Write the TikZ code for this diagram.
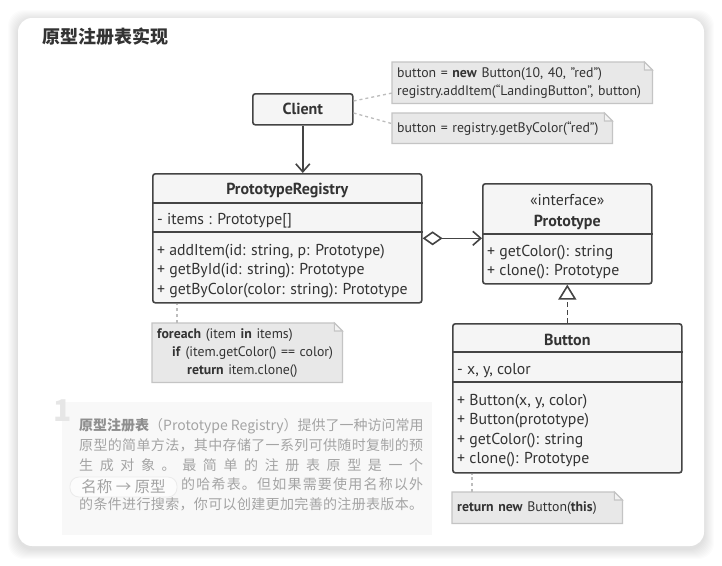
\documentclass[tikz,border=0pt]{standalone}
\usepackage{fontspec}
\setmainfont{PT Sans}
\newfontfamily\cjk{Noto Sans CJK SC}
\usetikzlibrary{arrows.meta,positioning,calc}
\definecolor{Ink}{HTML}{333333}
\definecolor{Frame}{HTML}{444444}
\definecolor{BoxFill}{HTML}{F5F5F5}
\definecolor{NoteFill}{HTML}{E8E8E8}
\definecolor{NoteRule}{HTML}{C4C4C4}
\definecolor{FoldFill}{HTML}{F3F3F3}
\definecolor{Link}{HTML}{BDBDBD}
\definecolor{Faded}{HTML}{A4A4A4}
\definecolor{FadedBold}{HTML}{8E8E8E}
\definecolor{PanelFill}{HTML}{F8F8F8}
\definecolor{PillRule}{HTML}{EBEBEB}
\definecolor{BigNum}{HTML}{E6E6E6}
\pgfdeclarelayer{card}
\pgfdeclarelayer{paper}
\pgfsetlayers{card,paper,main}
% folded note frame behind a node
\newcommand{\dognote}[1]{%
  \begin{pgfonlayer}{paper}
    \filldraw[notecard] (#1.north west) -- ([xshift=-8pt]#1.north east)
      -- ([yshift=-8pt]#1.north east) -- (#1.south east) -- (#1.south west) -- cycle;
    \filldraw[notefold] ([xshift=-8pt]#1.north east)
      -- ([xshift=-8pt,yshift=-8pt]#1.north east) -- ([yshift=-8pt]#1.north east) -- cycle;
  \end{pgfonlayer}}
% spread CJK characters over a fixed width
\makeatletter
\newcommand{\spreadchars}[1]{\def\spreadgap{}\@tfor\spreadch:=#1\do{\spreadgap\spreadch\def\spreadgap{\hfill}}}
\makeatother

\begin{document}
\begin{tikzpicture}[x=1pt, y=-1pt,
  heading/.style={font=\cjk\bfseries\fontsize{18}{22}\selectfont, text=Ink, anchor=west, inner sep=0pt},
  umlbox/.style={draw=Frame, line width=1.6pt, rounded corners=2.5pt, fill=BoxFill,
    anchor=north west, inner sep=0pt, text=Ink, font=\fontsize{16}{19}\selectfont\bfseries},
  sep/.style={draw=Frame, line width=1.6pt},
  classname/.style={font=\fontsize{16}{19}\selectfont\bfseries, text=Ink, inner sep=0pt, yshift=-2pt},
  stereo/.style={font=\fontsize{15.8}{19}\selectfont, text=Ink, inner sep=0pt, yshift=-0.5pt},
  member/.style={font=\fontsize{15.8}{19}\selectfont, text=Ink, anchor=mid west, inner sep=0pt, yshift=-3.5pt},
  note/.style={anchor=north west, text width=#1, inner xsep=5pt, inner ysep=0pt, align=left,
    font=\fontsize{13.8}{18}\selectfont, text=Ink},
  notecard/.style={fill=NoteFill, draw=NoteRule, line width=1.3pt},
  notefold/.style={fill=FoldFill, draw=NoteRule, line width=1.1pt},
  link/.style={draw=Link, line width=1.3pt, dash pattern=on 3pt off 3pt},
  assoc/.style={draw=Frame, line width=1.6pt, -{Straight Barb[length=8pt,width=14pt]}},
  aggr/.style={draw=Frame, line width=1.6pt,
    {Diamond[open,length=20pt,width=14pt]}-{Straight Barb[length=8pt,width=14pt]}},
  realize/.style={draw=Frame, line width=1.6pt, dash pattern=on 5pt off 3pt,
    -{Triangle[open,length=15pt,width=18pt]}},
  panel/.style={fill=PanelFill, anchor=north west, inner sep=0pt, minimum width=370pt, minimum height=133pt},
  bignum/.style={font=\cjk\bfseries\fontsize{30}{30}\selectfont, text=BigNum, anchor=north west, inner sep=0pt},
  para/.style={font=\cjk\fontsize{14}{18}\selectfont, text=Faded, anchor=mid west, inner sep=0pt},
  pill/.style={font=\cjk\fontsize{15.5}{18}\selectfont, text=Faded, fill=PanelFill!40!white, draw=PillRule,
    line width=0.8pt, rounded corners=9pt, minimum width=107pt, minimum height=20pt, inner sep=0pt}
]
  \useasboundingbox (0,0) rectangle (722,565);
  \begin{pgfonlayer}{card}
    \foreach \s in {1,...,10}
      \fill[black, opacity=0.013, rounded corners=16pt] (18-\s,20-\s) rectangle (704+\s,549+\s);
    \fill[white, rounded corners=14pt] (18,18) rectangle (704,546);
  \end{pgfonlayer}

  \node[heading] (heading) at (42,37) {原型注册表实现};

  % client and its notes
  \node[umlbox, minimum width=100pt, minimum height=31pt] (client) at (252,93) {Client};
  \node[note=250pt, minimum height=41pt] (addnote) at (392,62)
    {button = \textbf{new} Button(10, 40, "red")\\registry.addItem(“LandingButton”, button)};
  \node[note=210pt, minimum height=30pt] (getnote) at (392,113)
    {button = registry.getByColor(“red”)};
  \dognote{addnote}
  \dognote{getnote}
  \draw[link] (client.east |- 0,101) -- ($(addnote.south west)!0.25!(addnote.north west)$);
  \draw[link] (client.east |- 0,113) -- ($(getnote.north west)!0.35!(getnote.south west)$);

  % registry
  \node[umlbox, minimum width=269pt, minimum height=129pt] (registry) at (152,173) {};
  \draw[sep] (registry.west |- 0,203) -- (registry.east |- 0,203);
  \draw[sep] (registry.west |- 0,232) -- (registry.east |- 0,232);
  \node[classname] (registryname) at (registry.center |- 0,189) {PrototypeRegistry};
  \node[member] (regitems) at (157,218) {- items : Prototype[]};
  \node[member] (regadd) at (157,249) {+ addItem(id: string, p: Prototype)};
  \node[member] (regbyid) at (157,268) {+ getById(id: string): Prototype};
  \node[member] (regbycolor) at (157,288) {+ getByColor(color: string): Prototype};
  \draw[assoc] (client.south) -- (client.south |- registry.north);

  \node[note=180pt, minimum height=59pt] (loopnote) at (152,323)
    {\textbf{foreach} (item \textbf{in} items)\\
     \hspace*{15pt}\textbf{if} (item.getColor() == color)\\
     \hspace*{30pt}\textbf{return} item.clone()};
  \dognote{loopnote}
  \coordinate (loophook) at ($(loopnote.north west)+(25,0)$);
  \draw[link] (loophook) -- (loophook |- registry.south);

  % prototype interface
  \node[umlbox, minimum width=169pt, minimum height=100pt] (proto) at (482,183) {};
  \draw[sep] (proto.west |- 0,234) -- (proto.east |- 0,234);
  \node[stereo] (protostereo) at (proto.center |- 0,199) {«interface»};
  \node[classname] (protoname) at (proto.center |- 0,220) {Prototype};
  \node[member] (protocolor) at (487,250) {+ getColor(): string};
  \node[member] (protoclone) at (487,269) {+ clone(): Prototype};
  \draw[aggr] (registry.east) -- (registry.east -| proto.west);

  % button
  \node[umlbox, minimum width=229pt, minimum height=149pt] (button) at (452,323) {};
  \draw[sep] (button.west |- 0,352) -- (button.east |- 0,352);
  \draw[sep] (button.west |- 0,382) -- (button.east |- 0,382);
  \node[classname] (buttonname) at (button.center |- 0,338) {Button};
  \node[member] (buttonxy) at (457,368) {- x, y, color};
  \node[member] (buttonnew) at (457,399) {+ Button(x, y, color)};
  \node[member] (buttoncopy) at (457,418) {+ Button(prototype)};
  \node[member] (buttoncolor) at (457,438) {+ getColor(): string};
  \node[member] (buttonclone) at (457,457) {+ clone(): Prototype};
  \draw[realize] (button.north) -- (proto.south);

  \node[note=160pt, minimum height=31pt] (clonenote) at (452,492)
    {\textbf{return new} Button(\textbf{this})};
  \dognote{clonenote}
  \coordinate (clonehook) at ($(clonenote.north west)+(20,0)$);
  \draw[link] (clonehook) -- (clonehook |- button.south);

  % explanation
  \node[panel] (panel) at (62,402) {};
  \node[bignum] (num) at (53,400) {1};
  \node[para] (line1) at (79,428) {{\color{FadedBold}\bfseries 原型注册表}（Prototype Registry）提供了一种访问常用};
  \node[para] (line2) at (79,448) {\hbox to 344pt{\spreadchars{原型的简单方法，其中存储了一系列可供随时复制的预}}};
  \node[para] (line3) at (79,468) {\hbox to 344pt{\spreadchars{生成对象。最简单的注册表原型是一个}}};
  \node[pill] (pill) at (123.5,487) {名称 → 原型};
  \node[para] (line4) at (181,487) {\hbox to 242pt{\spreadchars{的哈希表。但如果需要使用名称以外}}};
  \node[para] (line5) at (79,507) {\hbox to 344pt{\spreadchars{的条件进行搜索，你可以创建更加完善的注册表版本。}}};
\end{tikzpicture}
\end{document}
